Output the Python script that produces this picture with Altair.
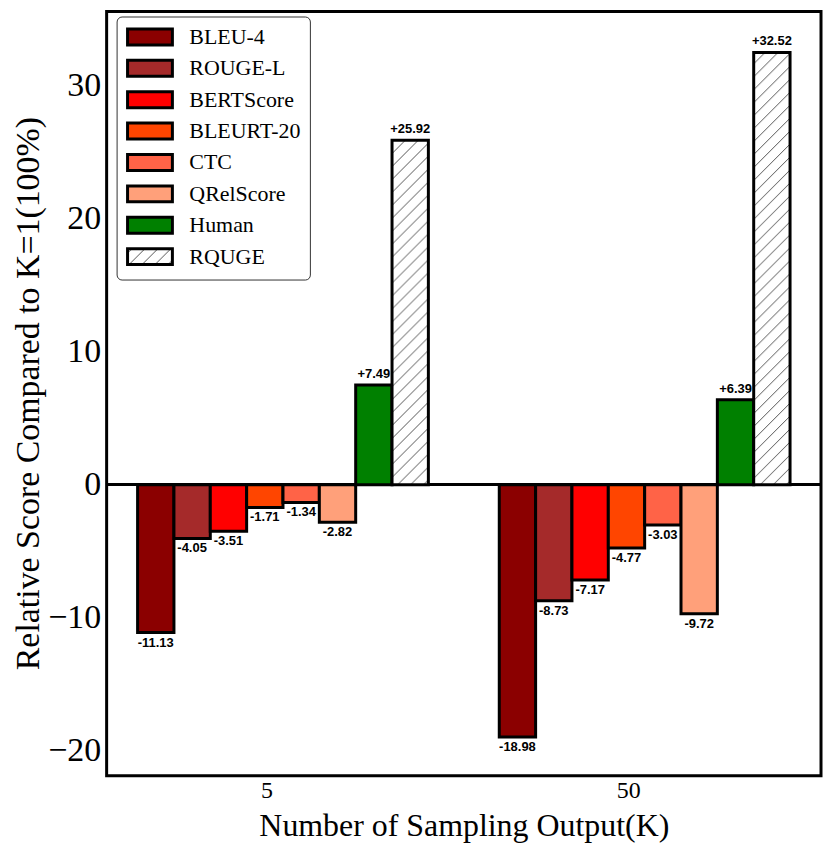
import altair as alt
import pandas as pd

# values
groups = ["5", "50"]
metrics = ["BLEU-4", "ROUGE-L", "BERTScore", "BLEURT-20", "CTC", "QRelScore", "Human", "RQUGE"]
scores_k5 = [-11.13, -4.05, -3.51, -1.71, -1.34, -2.82, 7.49, 25.92]
scores_k50 = [-18.98, -8.73, -7.17, -4.77, -3.03, -9.72, 6.39, 32.52]
fills = ["#8b0000", "#a52a2a", "#ff0000", "#ff4500", "#ff6347", "#ffa07a", "#008000", "url(#hatch)"]
y_ticks = [-20, -10, 0, 10, 20, 30]

rows = []
for k, scores in zip(groups, [scores_k5, scores_k50]):
    for m, s in zip(metrics, scores):
        rows.append({"k": k, "metric": m, "score": s, "label": f"{s:+.2f}"})
df = pd.DataFrame(rows)

SERIF = "Liberation Serif"

base = alt.Chart(df).encode(
    x=alt.X(
        "k:N",
        sort=groups,
        scale=alt.Scale(domain=groups, paddingInner=0.196, paddingOuter=0.0856),
        axis=alt.Axis(
            title="Number of Sampling Output(K)",
            labelAngle=0,
            labelOffset=-16,
            labelFont=SERIF,
            labelFontSize=24,
            labelPadding=3,
            titleFont=SERIF,
            titleFontSize=32,
            titleFontWeight="normal",
            titlePadding=8,
            domain=False,
            ticks=False,
        ),
    ),
    xOffset=alt.XOffset("metric:N", sort=metrics,
                        scale=alt.Scale(paddingInner=0, paddingOuter=0)),
    y=alt.Y(
        "score:Q",
        scale=alt.Scale(domain=[-21.9, 35.6], nice=False, zero=False),
        axis=alt.Axis(
            title="Relative Score Compared to K=1(100%)",
            values=y_ticks,
            grid=False,
            domain=False,
            ticks=False,
            labelFont=SERIF,
            labelFontSize=34,
            labelPadding=6,
            titleFont=SERIF,
            titleFontSize=34,
            titleFontWeight="normal",
            titleX=-95,
            titleY=383,
            titleAngle=-90,
            titleAlign="center",
            titleBaseline="top",
        ),
    ),
)

bars = base.mark_bar(stroke="black", strokeWidth=3).encode(
    color=alt.Color(
        "metric:N",
        sort=metrics,
        scale=alt.Scale(domain=metrics, range=fills),
        legend=alt.Legend(
            title=None,
            orient="none",
            legendX=10,
            legendY=5,
            fillColor="white",
            strokeColor="#333",
            cornerRadius=5,
            padding=9,
            labelFont=SERIF,
            labelFontSize=22,
            labelColor="black",
            labelOffset=28,
            symbolType="M-2.25,-0.8H2.25V0.8H-2.25Z",
            symbolSize=400,
            symbolOffset=13,
            symbolStrokeColor="black",
            symbolStrokeWidth=3,
            symbolOpacity=1,
            rowPadding=2.5,
        ),
    )
)

label_style = dict(font="Liberation Sans", fontWeight="bold", fontSize=13, color="black")
neg_text = base.transform_filter("datum.score < 0").mark_text(
    baseline="top", dy=4, **label_style
).encode(text="label:N")
pos_text = base.transform_filter("datum.score >= 0").mark_text(
    baseline="bottom", dy=-4, **label_style
).encode(text="label:N")

zero_line = alt.Chart(df).mark_rule(color="black", strokeWidth=2).encode(y=alt.datum(0))

chart = alt.layer(zero_line, bars, neg_text, pos_text).properties(
    width=717,
    height=767,
    autosize=alt.AutoSizeParams(type="none"),
    padding={"left": 99, "top": 2, "right": 2, "bottom": 68},
).configure_view(
    stroke="black",
    strokeWidth=3,
)

chart.save("out.html", embed_options={"renderer": "svg", "actions": False})

# hatch pattern for the RQUGE bars, referenced as url(#hatch) in the colour range
hatch_defs = (
    '<svg width="0" height="0" style="position:absolute">'
    '<defs><pattern id="hatch" patternUnits="userSpaceOnUse" width="13" height="13">'
    '<rect width="13" height="13" fill="white"/>'
    '<path d="M-1,1 l2,-2 M0,13 l13,-13 M12,14 l2,-2" stroke="#555" stroke-width="1"/>'
    '</pattern></defs></svg>'
)
with open("out.html", encoding="utf-8") as f:
    html = f.read()
html = html.replace("<body>", "<body>" + hatch_defs, 1)
with open("out.html", "w", encoding="utf-8") as f:
    f.write(html)
